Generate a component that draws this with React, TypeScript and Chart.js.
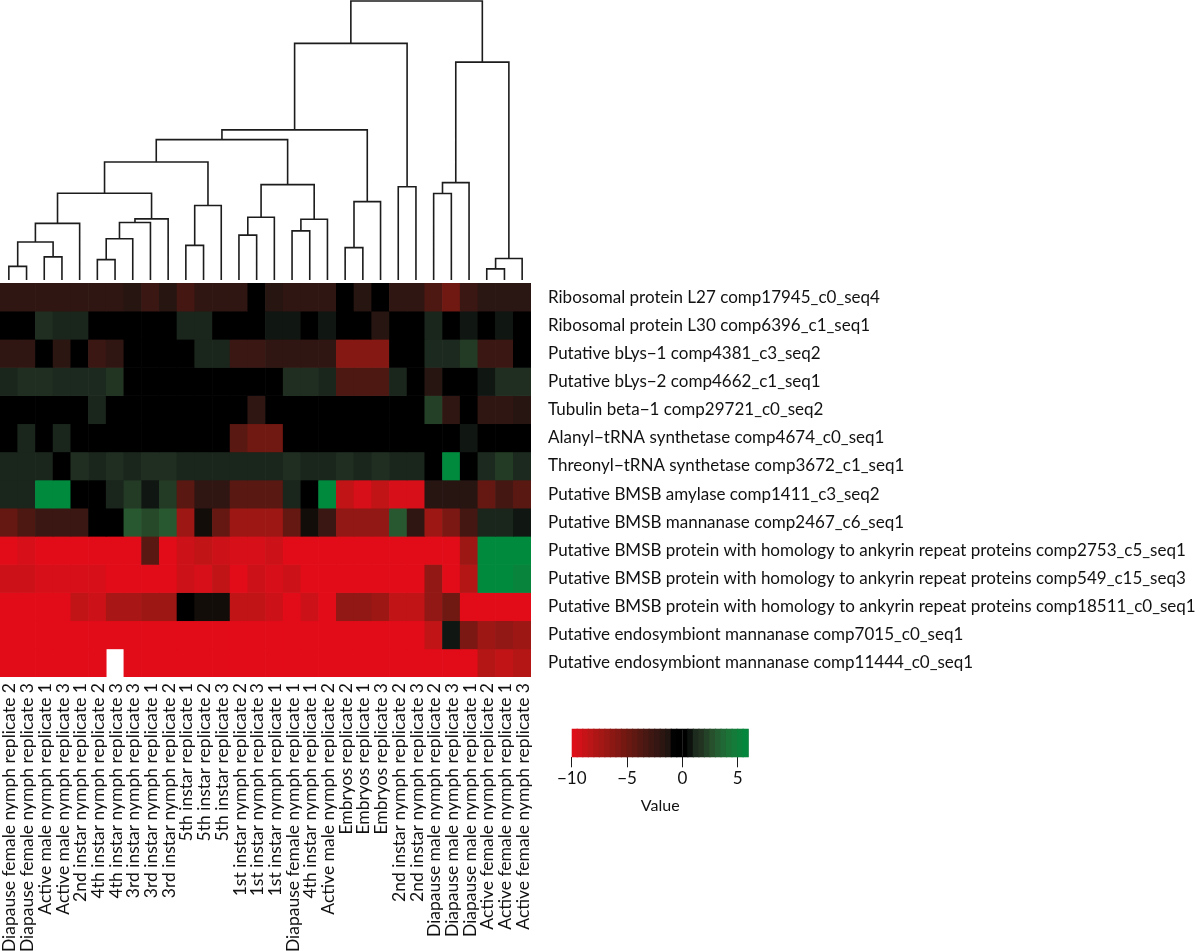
import React, { useEffect, useRef } from 'react';
import { Chart, registerables } from 'chart.js';
Chart.register(...registerables);

const columnLabels = [
  'Diapause female nymph replicate 2', 'Diapause female nymph replicate 3', 'Active male nymph replicate 1',
  'Active male nymph replicate 3', '2nd instar nymph replicate 1', '4th instar nymph replicate 2',
  '4th instar nymph replicate 3', '3rd instar nymph replicate 3', '3rd instar nymph replicate 1',
  '3rd instar nymph replicate 2', '5th instar replicate 1', '5th instar replicate 2', '5th instar replicate 3',
  '1st instar nymph replicate 2', '1st instar nymph replicate 3', '1st instar nymph replicate 1',
  'Diapause female nymph replicate 1', '4th instar nymph replicate 1', 'Active male nymph replicate 2',
  'Embryos replicate 2', 'Embryos replicate 1', 'Embryos replicate 3', '2nd instar nymph replicate 2',
  '2nd instar nymph replicate 3', 'Diapause male nymph replicate 2', 'Diapause male nymph replicate 3',
  'Diapause male nymph replicate 1', 'Active female nymph replicate 2', 'Active female nymph replicate 1',
  'Active female nymph replicate 3',
];

const rowLabels = [
  'Ribosomal protein L27 comp17945_c0_seq4',
  'Ribosomal protein L30 comp6396_c1_seq1',
  'Putative bLys\u22121 comp4381_c3_seq2',
  'Putative bLys\u22122 comp4662_c1_seq1',
  'Tubulin beta\u22121 comp29721_c0_seq2',
  'Alanyl\u2212tRNA synthetase comp4674_c0_seq1',
  'Threonyl\u2212tRNA synthetase comp3672_c1_seq1',
  'Putative BMSB amylase comp1411_c3_seq2',
  'Putative BMSB mannanase comp2467_c6_seq1',
  'Putative BMSB protein with homology to ankyrin repeat proteins comp2753_c5_seq1',
  'Putative BMSB protein with homology to ankyrin repeat proteins comp549_c15_seq3',
  'Putative BMSB protein with homology to ankyrin repeat proteins comp18511_c0_seq1',
  'Putative endosymbiont mannanase comp7015_c0_seq1',
  'Putative endosymbiont mannanase comp11444_c0_seq1',
];

// heatmap values, one array per row (columns in dendrogram order)
const rowL27 = [-2, -2, -2, -2, -2, -2, -2, -1.5, -2.5, -1.5, -3, -2, -2, -2, 0, -1.5, -2, -2, -2, 0, -1.5, 0, -2, -2, -3.5, -5, -2.5, -1.7, -1.7, -1.7];
const rowL30 = [0, 0, 1.5, 1, 1, 0, 0, 0, 0, 0, 1, 1, 0, 0, 0, 0.8, 0.8, 0, 0.8, 0, 0, -1.5, 0, 0, 1, 0, 0.8, 0, 0.8, 0];
const rowLys1 = [-2, -2, 0, -1.8, 0, -2.5, -2, 0, 0, 0, 0, 1, 1, -2.5, -2.5, -2, -2, -2, -2, -6, -6, -6, 0, 0, 1.2, 1.2, 2, -2.5, -2.5, 0];
const rowLys2 = [1, 1.5, 1.5, 1.2, 1.2, 1.2, 1.8, 0, 0, 0, 0, 0, 0, 0, 0, 0, 1.5, 1.5, 1, -3.5, -3.5, -3.5, 1, 0, -1.5, 0, 0, 0.8, 1.5, 1.5];
const rowTubulin = [0, 0, 0, 0, 0, 1, 0, 0, 0, 0, 0, 0, 0, 0, -2, 0, 0, 0, 0, 0, 0, 0, 0, 0, 2.2, -2, 0, -2, -2, -1.5];
const rowAlanyl = [0, 1, 0, 1, 0, 0, 0, 0, 0, 0, 0, 0, 0, -4, -5, -5, 0, 0, 0, 0, 0, 0, 0, 0, 0, 0, 0.8, 0, 0, 0];
const rowThreonyl = [1, 1, 1, 0, 1.5, 1, 1.5, 1, 1.5, 1.5, 1, 1, 1, 1, 1, 1, 1.5, 1, 1, 1.5, 1, 1.5, 1, 1, 0, 6, 0, 1.2, 2, 1.2];
const rowAmylase = [1, 1, 6, 6, 0, 0, 1, 2, 0.8, 2, -4, -2, -2, -4, -4, -4, 1, 0, 6, -8.5, -9.5, -8.5, -9.5, -9.5, -1.5, -1.5, -1.5, -4.5, -3, -4];
const rowMannanase = [-4.5, -3.5, -2.5, -2.5, -2.5, 0, 0, 3, 2.5, 3, -7, -1, -4.5, -7, -7, -7, -4.5, -1, -2.5, -6.5, -6.5, -6.5, 3, -2, -7, -5.5, -3, 1, 1, 0.8];
const rowAnk2753 = [-10, -9.5, -10, -10, -10, -10, -10, -10, -4, -10, -9, -8.5, -9, -9.5, -9.5, -9, -10, -10, -10, -10, -10, -10, -10, -10, -10, -10, -7, 6, 6, 6];
const rowAnk549 = [-9, -9, -9.5, -9.5, -9.5, -9.5, -10, -10, -10, -10, -9, -9.5, -8.5, -10, -9, -9.5, -9, -10, -10, -10, -10, -10, -10, -10, -6.5, -10, -8, 6, 6, 5.5];
const rowAnk18511 = [-10, -10, -10, -10, -8.5, -9, -7.5, -7.5, -7, -7, 0, -1, -1, -8.5, -8.5, -9, -10, -9, -10, -6.5, -6.5, -7, -8.5, -8.5, -6.5, -5, -10, -10, -10, -10];
const rowEndo7015 = [-10, -10, -10, -10, -10, -10, -10, -10, -10, -10, -10, -10, -10, -10, -10, -10, -10, -10, -10, -10, -10, -10, -10, -10, -8.5, 0.8, -5.5, -7, -6.5, -7];
const rowEndo11444 = [-10, -10, -10, -10, -10, -10, null, -10, -10, -10, -10, -10, -10, -10, -10, -10, -10, -10, -10, -10, -10, -10, -10, -10, -10, -10, -10, -8, -8.5, -8];

const heatRows: (number | null)[][] = [
  rowL27, rowL30, rowLys1, rowLys2, rowTubulin, rowAlanyl, rowThreonyl,
  rowAmylase, rowMannanase, rowAnk2753, rowAnk549, rowAnk18511, rowEndo7015, rowEndo11444,
];

// column dendrogram: leaves are 0..29, a negative number -(k+1) refers to merge k
const mergeLeft = [0, 2, -1, -3, 5, -5, -6, -7, -4, 10, -10, -9, 13, -13, 16, -15, -14, -12, 19, -19, -18, 22, -21, 24, -24, 27, -26, -25, -23];
const mergeRight = [1, 3, -2, 4, 6, 7, 8, 9, -8, 11, 12, -11, 14, 15, 17, 18, -16, -17, 20, 21, -20, 23, -22, 25, 26, 28, 29, -27, -28];
const mergeHeight = [4.9, 8.3, 13.6, 20.3, 7.3, 14.8, 20.6, 21.9, 31.1, 12.4, 26.7, 42.3, 16.1, 22.5, 17.6, 21.8, 34.2, 50.3, 11.6, 28.1, 53.8, 33.4, 84.8, 31.0, 34.9, 4.0, 7.7, 78.1, 100];

const keyMin = -10;
const keyMax = 6;
const keyTicks = [-10, -5, 0, 5];

const FONT = 'Lato, "Open Sans", sans-serif';

const negStops: [number, number[]][] = [
  [0, [0, 0, 0]], [0.07, [0, 0, 0]], [0.12, [32, 21, 17]], [0.2, [48, 22, 18]], [0.35, [78, 24, 18]], [0.5, [112, 24, 18]],
  [0.65, [145, 24, 20]], [0.8, [180, 22, 22]], [0.9, [204, 18, 24]], [1, [226, 12, 24]],
];
const posStops: [number, number[]][] = [
  [0, [0, 0, 0]], [0.09, [0, 0, 0]], [0.16, [26, 36, 28]], [0.3, [34, 52, 34]], [0.5, [40, 88, 48]], [0.75, [24, 120, 58]], [1, [0, 138, 62]],
];

function interp(stops: [number, number[]][], t: number) {
  t = Math.max(0, Math.min(1, t));
  for (let i = 1; i < stops.length; i++) {
    const [t1, c1] = stops[i];
    const [t0, c0] = stops[i - 1];
    if (t <= t1) {
      const f = (t - t0) / (t1 - t0);
      const c = c0.map((a, k) => Math.round(a + (c1[k] - a) * f));
      return `rgb(${c[0]},${c[1]},${c[2]})`;
    }
  }
  const c = stops[stops.length - 1][1];
  return `rgb(${c[0]},${c[1]},${c[2]})`;
}

function valueColor(v: number) {
  return v < 0 ? interp(negStops, -v / -keyMin) : interp(posStops, v / keyMax);
}

export default function App() {
  const mainRef = useRef<HTMLCanvasElement>(null);
  const keyRef = useRef<HTMLCanvasElement>(null);

  useEffect(() => {
    const heatDatasets = heatRows.map((row, r) => {
      const pts: any[] = [];
      const colors: string[] = [];
      row.forEach((v, c) => {
        if (v === null) return;
        pts.push({ x: c, y: [r, r + 1] });
        colors.push(valueColor(v));
      });
      return {
        type: 'bar' as const,
        label: rowLabels[r],
        data: pts,
        backgroundColor: colors,
        borderWidth: 0,
        barPercentage: 1,
        categoryPercentage: 1,
        grouped: false,
        xAxisID: 'x',
        yAxisID: 'y',
      };
    });

    // dendrogram segments
    const nodeX: number[] = [];
    const nodeH: number[] = [];
    const ref = (id: number) => (id >= 0 ? { x: id, h: 0 } : { x: nodeX[-id - 1], h: nodeH[-id - 1] });
    const dendro: any[] = [];
    mergeHeight.forEach((h, k) => {
      const a = ref(mergeLeft[k]);
      const b = ref(mergeRight[k]);
      nodeX[k] = (a.x + b.x) / 2;
      nodeH[k] = h;
      dendro.push({ x: a.x, y: a.h }, { x: a.x, y: h }, { x: b.x, y: h }, { x: b.x, y: b.h }, { x: b.x, y: null });
    });

    const main = new Chart(mainRef.current!, {
      type: 'bar',
      data: {
        datasets: [
          ...heatDatasets,
          {
            type: 'line' as const,
            label: 'dendrogram',
            data: dendro,
            borderColor: '#1c1c1c',
            borderWidth: 1.6,
            pointRadius: 0,
            tension: 0,
            spanGaps: false,
            fill: false,
            clip: false,
            xAxisID: 'x',
            yAxisID: 'yd',
          } as any,
        ],
      },
      options: {
        responsive: false,
        animation: false,
        events: [],
        layout: { padding: 0, autoPadding: false },
        plugins: { legend: { display: false }, tooltip: { enabled: false } },
        scales: {
          x: {
            type: 'linear',
            position: 'bottom',
            min: -0.5,
            max: 29.5,
            offset: false,
            grid: { display: false, drawTicks: false },
            border: { display: false },
            afterBuildTicks: (s: any) => { s.ticks = columnLabels.map((_, i) => ({ value: i })); },
            afterFit: (s: any) => {
              s.height = 274;
              s.paddingLeft = 0;
              s.paddingRight = 0;
              s.paddingTop = 0;
              s.paddingBottom = 0;
            },
            ticks: {
              autoSkip: false,
              maxRotation: 90,
              minRotation: 90,
              padding: 6,
              labelOffset: 1,
              color: '#111',
              font: { family: FONT, size: 17.5 },
              callback: (_v: any, i: number) => columnLabels[i],
            },
          },
          yd: {
            type: 'linear',
            position: 'right',
            stack: 'main',
            stackWeight: 283,
            weight: 0,
            min: -1.075,
            max: 100.36,
            display: false,
          },
          y: {
            type: 'linear',
            position: 'right',
            stack: 'main',
            stackWeight: 394,
            weight: 1,
            reverse: true,
            min: 0,
            max: 14,
            grid: { display: false, drawTicks: false },
            border: { display: false },
            afterBuildTicks: (s: any) => { s.ticks = rowLabels.map((_, i) => ({ value: i + 0.5 })); },
            afterFit: (s: any) => {
              s.width = 669;
              s.paddingTop = 0;
              s.paddingBottom = 0;
              s.paddingLeft = 0;
              s.paddingRight = 0;
            },
            ticks: {
              autoSkip: false,
              padding: 17,
              color: '#111',
              font: { family: FONT, size: 17 },
              callback: (_v: any, i: number) => rowLabels[i],
            },
          },
        } as any,
      },
    });

    // colour key
    const binStep = 0.5;
    const bins: any[] = [];
    const binColors: string[] = [];
    for (let v = keyMin; v < keyMax - 1e-9; v += binStep) {
      bins.push({ y: 'key', x: [v, v + binStep] });
      binColors.push(valueColor(v + binStep / 2));
    }

    const key = new Chart(keyRef.current!, {
      type: 'bar',
      data: {
        labels: ['key'],
        datasets: [
          {
            data: bins,
            backgroundColor: binColors,
            borderWidth: 0,
            inflateAmount: 0.6,
            barPercentage: 1,
            categoryPercentage: 1,
            grouped: false,
          } as any,
          {
            data: [{ y: 'key', x: [keyMin, keyMax] }],
            backgroundColor: 'rgba(0,0,0,0)',
            borderColor: '#1c1c1c',
            borderWidth: 1,
            borderSkipped: false,
            inflateAmount: 0,
            barPercentage: 1,
            categoryPercentage: 1,
            grouped: false,
          } as any,
        ],
      },
      options: {
        indexAxis: 'y',
        responsive: false,
        animation: false,
        events: [],
        layout: { padding: { left: 31.7, right: 41.3, top: 28.7, bottom: 0 }, autoPadding: false },
        plugins: { legend: { display: false }, tooltip: { enabled: false } },
        scales: {
          y: { type: 'category', display: false },
          x: {
            type: 'linear',
            min: keyMin,
            max: keyMax,
            afterBuildTicks: (s: any) => { s.ticks = keyTicks.map((v) => ({ value: v })); },
            afterFit: (s: any) => { s.height = 72.7; },
            grid: { display: true, drawOnChartArea: false, drawTicks: true, tickLength: 10, color: '#1c1c1c', lineWidth: 1 },
            border: { display: false },
            ticks: {
              padding: 1,
              color: '#111',
              font: { family: FONT, size: 17 },
              callback: (v: any) => (v < 0 ? '\u2212' + Math.abs(v) : String(v)),
            },
            title: {
              display: true,
              text: 'Value',
              color: '#111',
              font: { family: FONT, size: 16 },
              padding: { top: 2, bottom: 15 },
            },
          },
        } as any,
      },
    });

    return () => {
      main.destroy();
      key.destroy();
    };
  }, []);

  return (
    <div style={{ position: 'absolute', left: 0, top: 0, width: 1200, height: 951, background: '#fff' }}>
      <canvas ref={mainRef} width={1200} height={951} style={{ position: 'absolute', left: 0, top: 0 }} />
      <canvas ref={keyRef} width={250} height={130} style={{ position: 'absolute', left: 540, top: 700 }} />
    </div>
  );
}
